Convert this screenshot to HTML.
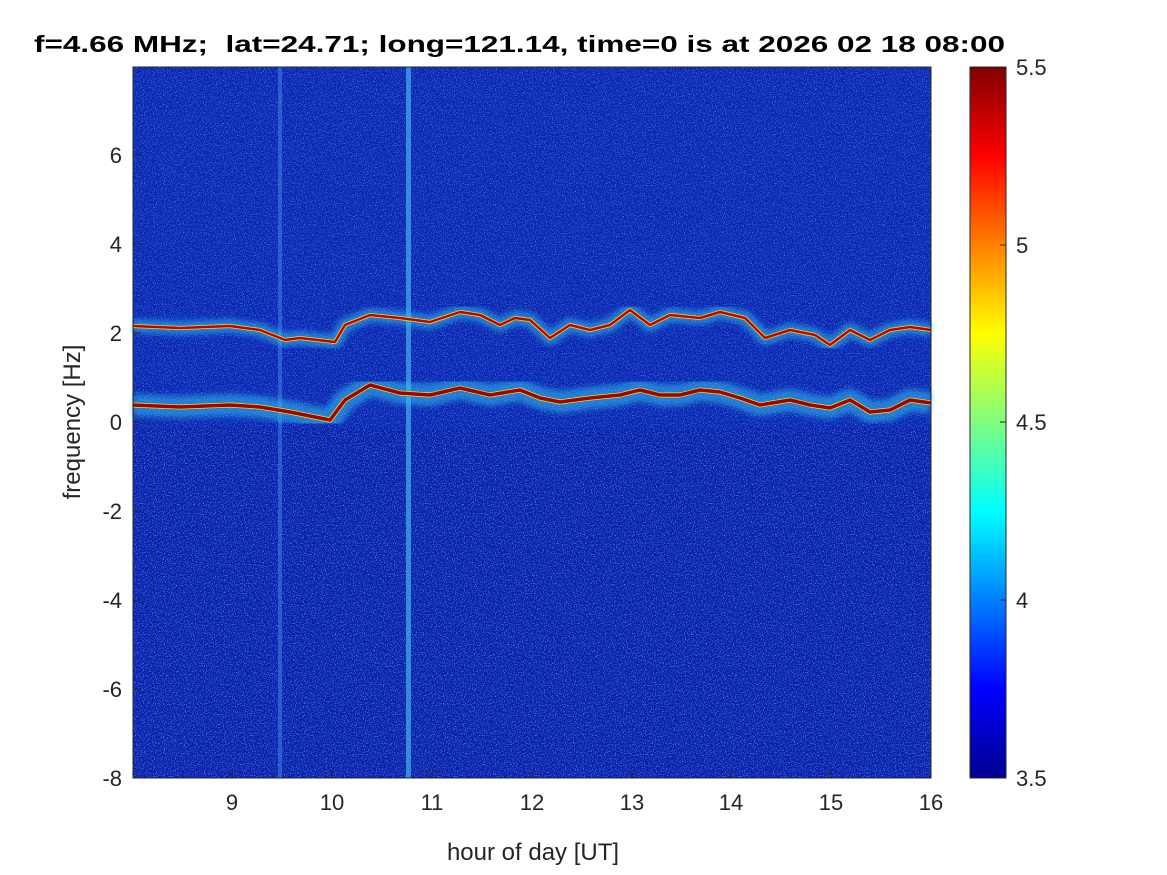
<!DOCTYPE html>
<html><head><meta charset="utf-8"><style>
html,body{margin:0;padding:0;background:#fff;}
svg{display:block;font-family:"Liberation Sans",Arial,sans-serif;}
</style></head><body>
<svg width="1167" height="875" viewBox="0 0 1167 875">
<defs>
<linearGradient id="jet" x1="0" y1="1" x2="0" y2="0">
<stop offset="0" stop-color="#00008f"/>
<stop offset="0.125" stop-color="#0000ff"/>
<stop offset="0.375" stop-color="#00ffff"/>
<stop offset="0.625" stop-color="#ffff00"/>
<stop offset="0.875" stop-color="#ff0000"/>
<stop offset="1" stop-color="#800000"/>
</linearGradient>
<filter id="noise" x="0" y="0" width="100%" height="100%">
<feTurbulence type="fractalNoise" baseFrequency="0.9" numOctaves="1" seed="3" result="n"/>
<feColorMatrix type="matrix" values="0 0 0 0 0.1  0 0 0 0 0.4  0 0 0 0 1  0 0 0 3 -1.5"/>
</filter>
<filter id="blur"><feGaussianBlur stdDeviation="3"/></filter>
</defs>
<rect x="133" y="67" width="798" height="711" fill="#0a1ea8"/>
<rect x="133" y="67" width="798" height="711" filter="url(#noise)"/>
<rect x="133" y="67" width="798" height="360" fill="#1040d0" opacity="0.2"/>
<rect x="278" y="67" width="4" height="711" fill="#3a8ce8" opacity="0.5"/>
<rect x="406" y="67" width="5" height="711" fill="#40b0f0" opacity="0.7"/>
<g fill="none" stroke-linejoin="round">
<polyline filter="url(#blur)" stroke="#30c0f0" stroke-width="14" opacity="0.55" points="133,326 180,328 230,326 260,330 285,340 300,338 335,342 345,325 370,315 400,318 430,322 460,312 480,315 500,325 515,318 530,320 550,338 570,325 590,330 610,325 630,310 650,325 670,315 700,318 720,312 745,318 765,338 790,330 815,335 830,345 850,330 870,340 890,330 910,327 931,330"/>
<polyline filter="url(#blur)" stroke="#30c0f0" stroke-width="22" opacity="0.55" points="133,405 180,407 230,405 260,407 290,412 320,418 330,420 345,400 370,385 400,393 430,395 460,388 490,395 520,390 540,398 560,402 590,398 620,395 640,390 660,395 680,395 700,390 720,392 740,398 760,405 790,400 810,405 830,408 850,400 870,412 890,410 910,400 931,403"/>
<polyline stroke="#f0e020" stroke-width="4" points="133,326 180,328 230,326 260,330 285,340 300,338 335,342 345,325 370,315 400,318 430,322 460,312 480,315 500,325 515,318 530,320 550,338 570,325 590,330 610,325 630,310 650,325 670,315 700,318 720,312 745,318 765,338 790,330 815,335 830,345 850,330 870,340 890,330 910,327 931,330"/>
<polyline stroke="#c00000" stroke-width="2.5" points="133,326 180,328 230,326 260,330 285,340 300,338 335,342 345,325 370,315 400,318 430,322 460,312 480,315 500,325 515,318 530,320 550,338 570,325 590,330 610,325 630,310 650,325 670,315 700,318 720,312 745,318 765,338 790,330 815,335 830,345 850,330 870,340 890,330 910,327 931,330"/>
<polyline stroke="#f0e020" stroke-width="5" points="133,405 180,407 230,405 260,407 290,412 320,418 330,420 345,400 370,385 400,393 430,395 460,388 490,395 520,390 540,398 560,402 590,398 620,395 640,390 660,395 680,395 700,390 720,392 740,398 760,405 790,400 810,405 830,408 850,400 870,412 890,410 910,400 931,403"/>
<polyline stroke="#a00000" stroke-width="3.5" points="133,405 180,407 230,405 260,407 290,412 320,418 330,420 345,400 370,385 400,393 430,395 460,388 490,395 520,390 540,398 560,402 590,398 620,395 640,390 660,395 680,395 700,390 720,392 740,398 760,405 790,400 810,405 830,408 850,400 870,412 890,410 910,400 931,403"/>
</g>
<rect x="133" y="67" width="798" height="711" fill="none" stroke="#262626" stroke-width="1"/>
<g stroke="#262626">
<line x1="232" y1="778" x2="232" y2="770"/><line x1="332" y1="778" x2="332" y2="770"/><line x1="432" y1="778" x2="432" y2="770"/><line x1="532" y1="778" x2="532" y2="770"/><line x1="632" y1="778" x2="632" y2="770"/><line x1="731" y1="778" x2="731" y2="770"/><line x1="831" y1="778" x2="831" y2="770"/>
<line x1="133" y1="155" x2="141" y2="155"/><line x1="133" y1="244" x2="141" y2="244"/><line x1="133" y1="333" x2="141" y2="333"/><line x1="133" y1="422" x2="141" y2="422"/><line x1="133" y1="511" x2="141" y2="511"/><line x1="133" y1="600" x2="141" y2="600"/><line x1="133" y1="689" x2="141" y2="689"/>
</g>
<g font-size="22" fill="#262626" text-anchor="middle">
<text x="232" y="810">9</text><text x="332" y="810">10</text><text x="432" y="810">11</text><text x="532" y="810">12</text><text x="632" y="810">13</text><text x="731" y="810">14</text><text x="831" y="810">15</text><text x="931" y="810">16</text>
<text x="533" y="860" font-size="24">hour of day [UT]</text>
</g>
<g font-size="22" fill="#262626" text-anchor="end">
<text x="122" y="163">6</text><text x="122" y="252">4</text><text x="122" y="341">2</text><text x="122" y="430">0</text><text x="122" y="519">-2</text><text x="122" y="608">-4</text><text x="122" y="697">-6</text><text x="122" y="786">-8</text>
</g>
<text transform="translate(80,422) rotate(-90)" font-size="24" fill="#262626" text-anchor="middle">frequency [Hz]</text>
<text x="34" y="52" font-size="23" font-weight="bold" fill="#000" textLength="971" lengthAdjust="spacingAndGlyphs">f=4.66 MHz;&#160; lat=24.71; long=121.14, time=0 is at 2026 02 18 08:00</text>
<rect x="970" y="67" width="36" height="711" fill="url(#jet)" stroke="#262626" stroke-width="1"/>
<g stroke="#262626"><line x1="1000" y1="245" x2="1006" y2="245"/><line x1="1000" y1="422" x2="1006" y2="422"/><line x1="1000" y1="600" x2="1006" y2="600"/></g>
<g font-size="22" fill="#262626">
<text x="1016" y="75">5.5</text><text x="1016" y="253">5</text><text x="1016" y="430">4.5</text><text x="1016" y="608">4</text><text x="1016" y="786">3.5</text>
</g>
</svg>
</body></html>
